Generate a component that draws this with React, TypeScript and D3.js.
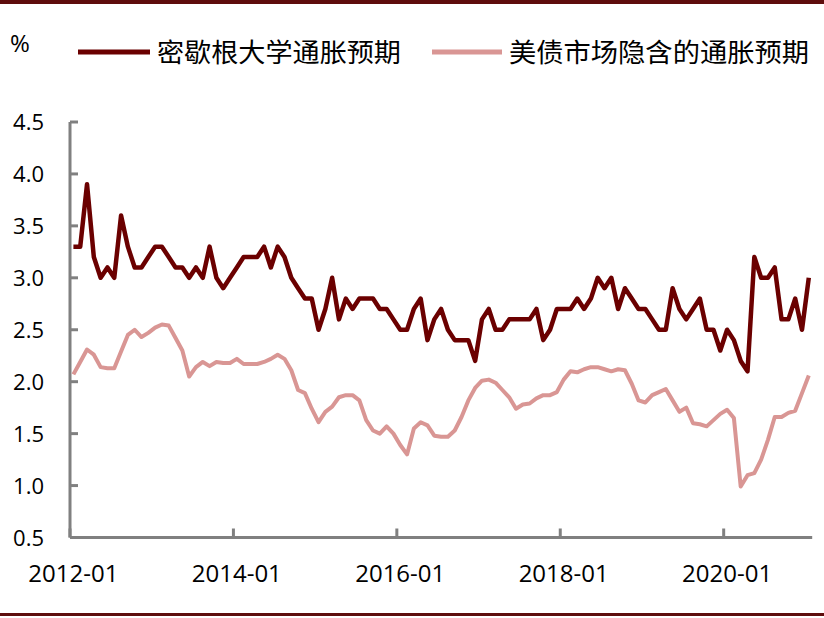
import React from "react";
import * as d3 from "d3";

const michigan: number[] = [
  3.3, 3.3, 3.9, 3.2, 3.0, 3.1, 3.0, 3.6, 3.3, 3.1, 3.1, 3.2, 3.3, 3.3, 3.2, 3.1, 3.1, 3.0, 3.1, 3.0, 3.3, 3.0, 2.9, 3.0, 3.1, 3.2, 3.2, 3.2, 3.3, 3.1, 3.3,
  3.2, 3.0, 2.9, 2.8, 2.8, 2.5, 2.7, 3.0, 2.6, 2.8, 2.7, 2.8, 2.8, 2.8, 2.7, 2.7, 2.6, 2.5, 2.5, 2.7, 2.8, 2.4, 2.6, 2.7, 2.5, 2.4, 2.4, 2.4, 2.2, 2.6, 2.7, 2.5, 2.5, 2.6, 2.6, 2.6, 2.6, 2.7,
  2.4, 2.5, 2.7, 2.7, 2.7, 2.8, 2.7, 2.8, 3.0, 2.9, 3.0, 2.7, 2.9, 2.8, 2.7, 2.7, 2.6, 2.5, 2.5, 2.9, 2.7, 2.6, 2.7, 2.8, 2.5, 2.5, 2.3, 2.5, 2.4, 2.2, 2.1, 3.2, 3.0, 3.0, 3.1, 2.6, 2.6, 2.8, 2.5, 3.0,
];

const breakeven: number[] = [
  2.07, 2.19, 2.31, 2.26, 2.14, 2.13, 2.13, 2.29, 2.45, 2.5, 2.43, 2.47, 2.52, 2.55, 2.54, 2.42, 2.3, 2.05, 2.14, 2.19, 2.15, 2.19, 2.18, 2.18, 2.22, 2.17, 2.17, 2.17, 2.19, 2.22, 2.26,
  2.22, 2.11, 1.92, 1.89, 1.74, 1.61, 1.71, 1.76, 1.85, 1.87, 1.87, 1.82, 1.63, 1.53, 1.5, 1.57, 1.5, 1.39, 1.3, 1.55, 1.61, 1.58, 1.48, 1.47, 1.47, 1.53, 1.66, 1.82, 1.94, 2.01, 2.02, 1.99, 1.92, 1.85, 1.74, 1.78, 1.79, 1.84,
  1.87, 1.87, 1.9, 2.02, 2.1, 2.09, 2.12, 2.14, 2.14, 2.12, 2.1, 2.12, 2.11, 1.98, 1.82, 1.8, 1.87, 1.9, 1.93, 1.82, 1.71, 1.75, 1.6, 1.59, 1.57, 1.63, 1.69, 1.73, 1.65, 0.99, 1.1, 1.12, 1.25, 1.44, 1.66, 1.66, 1.7, 1.72, 1.89, 2.06,
];

const months: string[] = michigan.map((_, i) => {
  const y = 2012 + Math.floor(i / 12);
  const m = (i % 12) + 1;
  return `${y}-${m < 10 ? "0" + m : m}`;
});

const xTickLabels: string[] = ["2012-01", "2014-01", "2016-01", "2018-01", "2020-01"];
const yTicks: number[] = [0.5, 1.0, 1.5, 2.0, 2.5, 3.0, 3.5, 4.0, 4.5];
const seriesNames: string[] = ["密歇根大学通胀预期", "美债市场隐含的通胀预期"];
const unitLabel = "%";

export default function App() {
  const W = 824;
  const H = 618;
  const left = 70;
  const right = 812.2;
  const top = 122;
  const bottom = 537.5;

  const x = d3.scaleBand<string>().domain(months).range([left, right]).paddingInner(0).paddingOuter(0);
  const y = d3.scaleLinear().domain([0.5, 4.5]).range([bottom, top]);
  const bw = x.bandwidth();
  const cx = (i: number) => (x(months[i]) as number) + bw / 2;

  const line = d3
    .line<number>()
    .x((_, i) => cx(i))
    .y((d) => y(d));

  const darkColor = "#6b0000";
  const lightColor = "#d99694";
  const axisColor = "#808080";
  const borderColor = "#5e0d0d";
  const numFont = "'Open Sans', 'Liberation Sans', sans-serif";
  const cjkFont = "'Noto Sans CJK SC', sans-serif";

  return (
    <svg width={W} height={H} style={{ position: "absolute", left: 0, top: 0, background: "#fff" }}>
      <rect x={0} y={0} width={W} height={H} fill="#fff" />
      <rect x={0} y={0} width={W} height={4} fill={borderColor} />
      <rect x={0} y={613} width={W} height={3} fill={borderColor} />

      {/* legend */}
      <text x={10} y={52} fontFamily={numFont} fontSize={24} fill="#000">
        {unitLabel}
      </text>
      <line x1={78} x2={150} y1={52} y2={52} stroke={darkColor} strokeWidth={5} />
      <text
        x={157}
        y={62}
        fontFamily={cjkFont}
        fontSize={26}
        textLength={244}
        lengthAdjust="spacingAndGlyphs"
        fill="#000"
      >
        {seriesNames[0]}
      </text>
      <line x1={432} x2={502} y1={52} y2={52} stroke={lightColor} strokeWidth={5} />
      <text
        x={509}
        y={62}
        fontFamily={cjkFont}
        fontSize={26}
        textLength={300}
        lengthAdjust="spacingAndGlyphs"
        fill="#000"
      >
        {seriesNames[1]}
      </text>

      {/* y axis */}
      <line x1={left} x2={left} y1={top} y2={bottom} stroke={axisColor} strokeWidth={3} />
      {yTicks.map((t) => (
        <g key={t}>
          <line x1={left} x2={left + 8} y1={y(t)} y2={y(t)} stroke={axisColor} strokeWidth={3} />
          <text
            x={44}
            y={y(t) + 8}
            textAnchor="end"
            fontFamily={numFont}
            fontSize={22}
            fill="#000"
          >
            {t.toFixed(1)}
          </text>
        </g>
      ))}

      {/* x axis */}
      <line x1={left} x2={right} y1={bottom} y2={bottom} stroke={axisColor} strokeWidth={3} />
      {xTickLabels.map((lab) => (
        <g key={lab}>
          <line
            x1={x(lab) as number}
            x2={x(lab) as number}
            y1={bottom}
            y2={bottom - 9}
            stroke={axisColor}
            strokeWidth={3}
          />
          <text
            x={(x(lab) as number) + bw / 2}
            y={581.5}
            textAnchor="middle"
            fontFamily={numFont}
            fontSize={24}
            fill="#000"
          >
            {lab}
          </text>
        </g>
      ))}

      {/* series */}
      <path d={line(breakeven) || ""} fill="none" stroke={lightColor} strokeWidth={4} strokeLinejoin="round" />
      <path d={line(michigan) || ""} fill="none" stroke={darkColor} strokeWidth={4.5} strokeLinejoin="round" />
    </svg>
  );
}
